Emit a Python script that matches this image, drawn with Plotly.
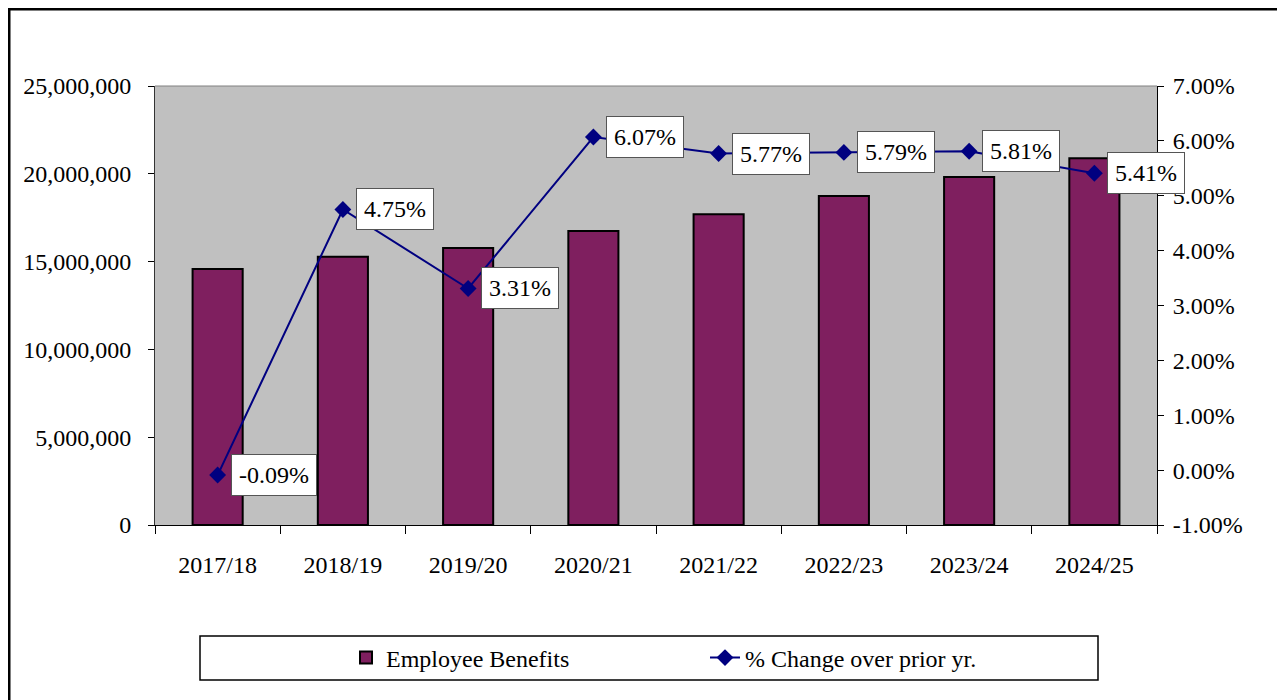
import plotly.graph_objects as go

years = ['2017/18', '2018/19', '2019/20', '2020/21', '2021/22', '2022/23', '2023/24', '2024/25']
benefits = [14580000, 15270000, 15780000, 16740000, 17700000, 18730000, 19820000, 20890000]
pct_change = [-0.0009, 0.0475, 0.0331, 0.0607, 0.0577, 0.0579, 0.0581, 0.0541]
pct_labels = ['-0.09%', '4.75%', '3.31%', '6.07%', '5.77%', '5.79%', '5.81%', '5.41%']
pct_ticks = [-0.01, 0.0, 0.01, 0.02, 0.03, 0.04, 0.05, 0.06, 0.07]
pct_ticktext = ['-1.00%', '0.00%', '1.00%', '2.00%', '3.00%', '4.00%', '5.00%', '6.00%', '7.00%']

font_name = "Liberation Serif"
fsize = 24

fig = go.Figure()

fig.add_trace(go.Bar(x=years, y=benefits, name='Employee Benefits',
                     marker=dict(color='#7F1F5F', line=dict(color='black', width=2)),
                     width=0.4))

fig.add_trace(go.Scatter(x=years, y=pct_change, name='% Change over prior yr.', yaxis='y2',
                         mode='lines+markers',
                         line=dict(color='#000080', width=2),
                         marker=dict(symbol='diamond', size=13, color='#000080')))

# boxed data labels right of each point
for yr, v, lab in zip(years, pct_change, pct_labels):
    fig.add_annotation(x=yr, y=v, yref='y2', text=lab, showarrow=False,
                       xanchor='left', yanchor='middle', xshift=13,
                       bgcolor='white', bordercolor='#555555', borderwidth=1, borderpad=7,
                       font=dict(family=font_name, size=fsize, color='black'))

# page has an 8px body margin, so the figure starts at page x=8,y=8
# outer frame
fig.add_shape(type='rect', xref='paper', yref='paper',
              x0=(9 - 155) / 1002, x1=(1281 - 155) / 1002,
              y0=(525 - 720) / 439, y1=(525 - 9) / 439,
              line=dict(color='black', width=3), fillcolor='rgba(0,0,0,0)', layer='above')
# legend box
fig.add_shape(type='rect', xref='paper', yref='paper',
              x0=(200 - 155) / 1002, x1=(1098 - 155) / 1002,
              y0=(525 - 680) / 439, y1=(525 - 636) / 439,
              line=dict(color='black', width=1.5), fillcolor='white', layer='below')

fig.update_layout(
    width=1277, height=692,
    margin=dict(l=147, r=128, t=78, b=175),
    plot_bgcolor='#C0C0C0', paper_bgcolor='white',
    font=dict(family=font_name, size=fsize, color='black'),
    showlegend=True,
    legend=dict(orientation='h', x=(346 - 155) / 1002, y=(525 - 658) / 439,
                xanchor='left', yanchor='middle',
                bgcolor='rgba(0,0,0,0)', borderwidth=0,
                entrywidth=314, entrywidthmode='pixels',
                font=dict(family=font_name, size=fsize)),
    xaxis=dict(range=[-0.5, 7.5], showline=True, linecolor='black', linewidth=1,
               ticks='outside', tickson='boundaries', ticklen=8, tickcolor='black',
               ticklabelstandoff=18, showgrid=False),
    yaxis=dict(range=[0, 25000000], dtick=5000000, tickformat=',',
               showline=True, linecolor='#333333', linewidth=1,
               ticks='outside', ticklen=6, tickcolor='black', ticklabelstandoff=12,
               showgrid=False, zeroline=False),
    yaxis2=dict(range=[-0.01, 0.07], tickvals=pct_ticks, ticktext=pct_ticktext,
                overlaying='y', side='right',
                showline=True, linecolor='black', linewidth=1,
                ticks='outside', ticklen=6, tickcolor='black', ticklabelstandoff=4,
                showgrid=False, zeroline=False),
)

# thin grey top edge of the plot area
fig.add_shape(type='line', xref='paper', yref='paper', x0=0, x1=1, y0=1, y1=1,
              line=dict(color='#808080', width=1))

fig.write_html("out.html")
